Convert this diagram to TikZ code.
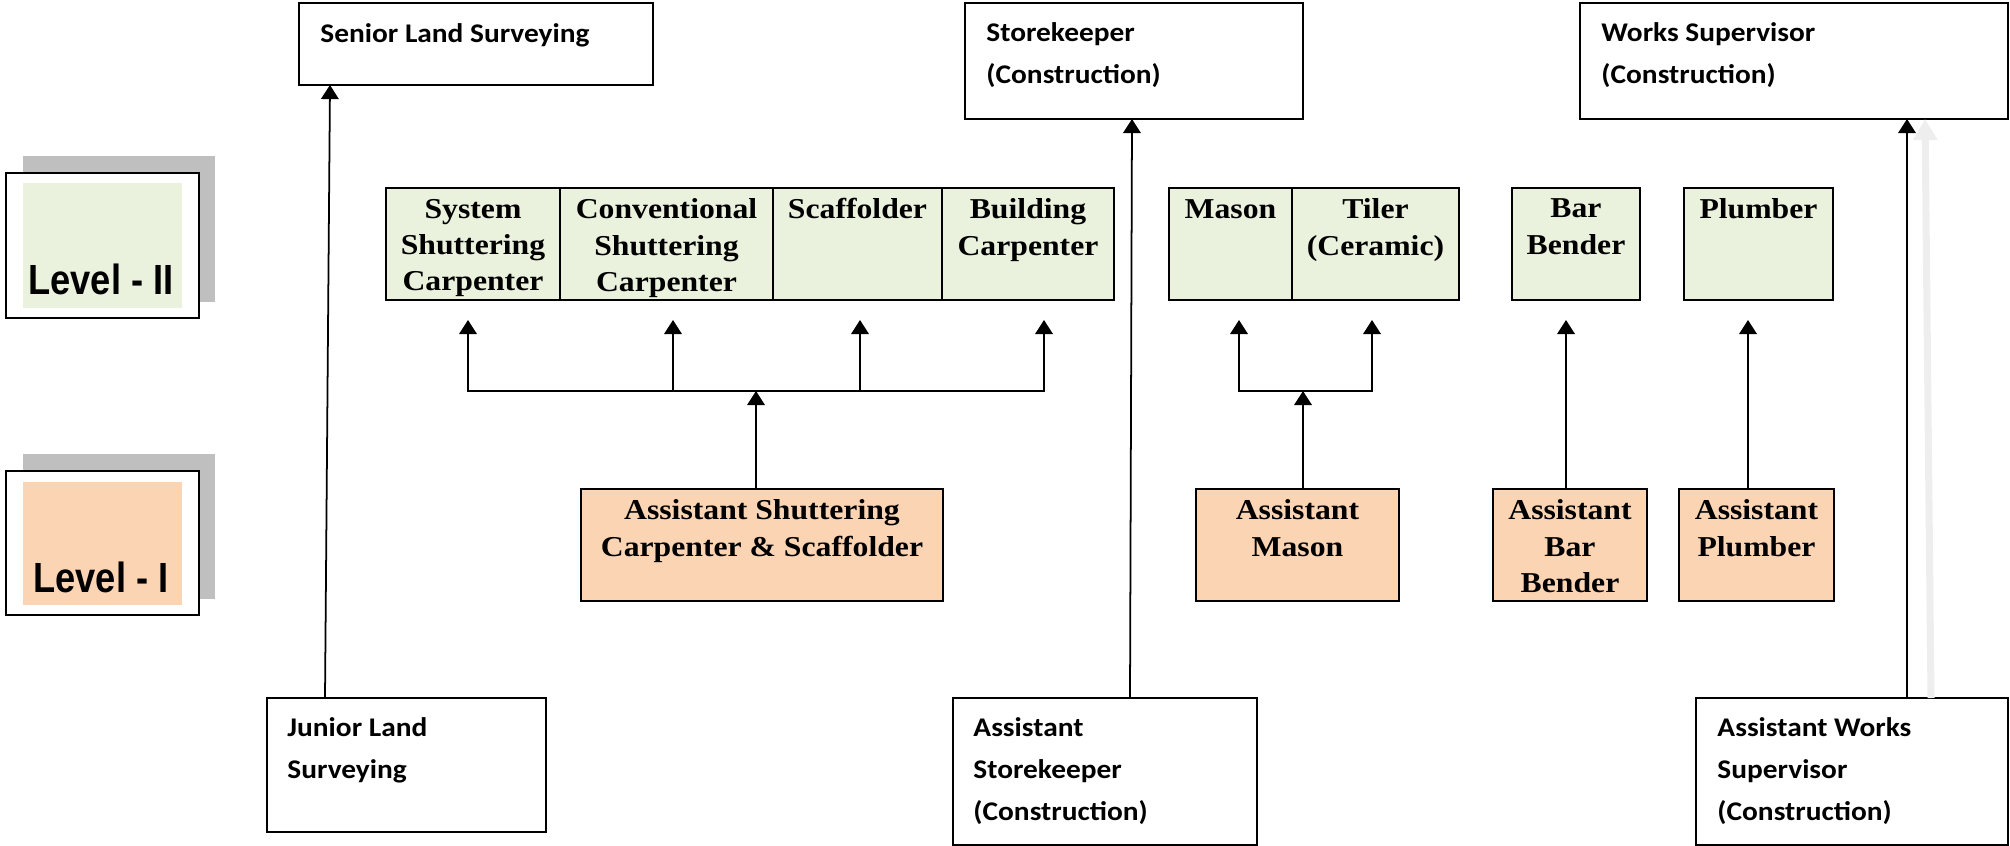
\documentclass[tikz,border=0pt]{standalone}
\usepackage{fontspec}
\usetikzlibrary{arrows.meta}
\newfontfamily\calibri{Carlito}[FakeStretch=1.09]
\newfontfamily\tnr{Liberation Serif}[FakeStretch=1.1]
\newfontfamily\arialn{Liberation Sans}[FakeStretch=0.86]
\definecolor{levelgreen}{RGB}{234, 241, 221}
\definecolor{levelorange}{RGB}{251, 212, 180}
\definecolor{shadowgray}{RGB}{191, 191, 191}
\definecolor{ghostgray}{RGB}{238, 238, 238}
\tikzset{
  sized/.style 2 args={minimum width=#1*0.015cm, minimum height=#2*0.015cm},
  wbox/.style={draw, line width=0.8pt, anchor=north west, inner sep=0pt, outer sep=0pt},
  cell/.style={wbox, fill=levelgreen},
  asst/.style={wbox, fill=levelorange},
  post/.style={anchor=north west, inner sep=0pt, align=left,
    font=\calibri\bfseries\fontsize{11.5}{18}\selectfont, execute at begin node=\strut},
  trade/.style={anchor=north, inner sep=0pt, align=center,
    font=\tnr\bfseries\fontsize{12.3}{15.5}\selectfont, execute at begin node=\strut},
  lvltxt/.style={anchor=base, inner sep=0pt, font=\arialn\bfseries\fontsize{18}{20}\selectfont},
  link/.style={line width=0.75pt, -{Triangle[width=7.5pt,length=6pt]}},
  both/.style={line width=0.75pt, {Triangle[width=7.5pt,length=6pt]}-{Triangle[width=7.5pt,length=6pt]}},
  ghost/.style={draw=ghostgray, line width=3pt, -{Triangle[width=10pt,length=9pt]}},
}
\begin{document}
\begin{tikzpicture}[x=0.015cm, y=-0.015cm]
\useasboundingbox (0,0) rectangle (2010,846);

% level tags
\fill[shadowgray] (23,156) rectangle (215,302);
\node[wbox, fill=white, sized={193}{145}] (lvl2) at (6,173) {};
\fill[levelgreen] ([shift={(17,10)}]lvl2.north west) rectangle ([shift={(-17,-10)}]lvl2.south east);
\node[lvltxt] (lvl2-text) at ([shift={(95,121)}]lvl2.north west) {Level - II};
\fill[shadowgray] (23,454) rectangle (215,599);
\node[wbox, fill=white, sized={193}{144}] (lvl1) at (6,471) {};
\fill[levelorange] ([shift={(17,11)}]lvl1.north west) rectangle ([shift={(-17,-10)}]lvl1.south east);
\node[lvltxt] (lvl1-text) at ([shift={(95,121)}]lvl1.north west) {Level - I};

% posts
\node[wbox, sized={354}{82}]  (sls) at (299,3)   {};
\node[wbox, sized={338}{116}] (sk)  at (965,3)   {};
\node[wbox, sized={428}{116}] (ws)  at (1580,3)  {};
\node[wbox, sized={279}{134}] (jls) at (267,698) {};
\node[wbox, sized={304}{147}] (ask) at (953,698) {};
\node[wbox, sized={312}{147}] (aws) at (1696,698) {};
\node[post] (sls-text) at ([shift={(21,10)}]sls.north west) {Senior Land Surveying};
\node[post] (sk-text)  at ([shift={(21,19)}]sk.north west)  {Storekeeper\\(Construction)};
\node[post] (ws-text)  at ([shift={(21,19)}]ws.north west)  {Works Supervisor\\(Construction)};
\node[post] (jls-text) at ([shift={(20,19)}]jls.north west) {Junior Land\\Surveying};
\node[post] (ask-text) at ([shift={(20,19)}]ask.north west) {Assistant\\Storekeeper\\(Construction)};
\node[post] (aws-text) at ([shift={(21,19)}]aws.north west) {Assistant Works\\Supervisor\\(Construction)};

% level II trades
\node[cell, sized={174}{112}] (sys)   at (386,188)  {};
\node[cell, sized={213}{112}] (conv)  at (560,188)  {};
\node[cell, sized={169}{112}] (scaf)  at (773,188)  {};
\node[cell, sized={172}{112}] (bldg)  at (942,188)  {};
\node[cell, sized={123}{112}] (mason) at (1169,188) {};
\node[cell, sized={167}{112}] (tiler) at (1292,188) {};
\node[cell, sized={128}{112}] (bar)   at (1512,188) {};
\node[cell, sized={149}{112}] (plum)  at (1684,188) {};
\node[trade] (sys-text)   at ([shift={(0,10.5)}]sys.north)   {System\\Shuttering\\Carpenter};
\node[trade] (conv-text)  at ([shift={(0,10.5)}]conv.north)  {Conventional\\Shuttering\\Carpenter};
\node[trade] (scaf-text)  at ([shift={(0,4.6)}]scaf.north)   {Scaffolder};
\node[trade] (bldg-text)  at ([shift={(0,10.5)}]bldg.north)  {Building\\Carpenter};
\node[trade] (mason-text) at ([shift={(0,4.6)}]mason.north)  {Mason};
\node[trade] (tiler-text) at ([shift={(0,10.5)}]tiler.north) {Tiler\\(Ceramic)};
\node[trade] (bar-text)   at ([shift={(0,10.5)}]bar.north)   {Bar\\Bender};
\node[trade] (plum-text)  at ([shift={(0,4.6)}]plum.north)   {Plumber};

% level I trades
\node[asst, sized={362}{112}] (asc) at (581,489)  {};
\node[asst, sized={203}{112}] (am)  at (1196,489) {};
\node[asst, sized={154}{112}] (abb) at (1493,489) {};
\node[asst, sized={155}{112}] (ap)  at (1679,489) {};
\node[trade] (asc-text) at ([shift={(0,10.5)}]asc.north) {Assistant Shuttering\\Carpenter \& Scaffolder};
\node[trade] (am-text)  at ([shift={(0,10.5)}]am.north)  {Assistant\\Mason};
\node[trade] (abb-text) at ([shift={(0,10.5)}]abb.north) {Assistant\\Bar\\Bender};
\node[trade] (ap-text)  at ([shift={(0,10.5)}]ap.north)  {Assistant\\Plumber};

% progression
\draw[link] ([shift={(58,0)}]jls.north west) -- ([shift={(31,0)}]sls.south west);
\draw[link] ([shift={(177,0)}]ask.north west) -- ([shift={(167,0)}]sk.south west);
\draw[ghost] ([shift={(235,0)}]aws.north west) -- ([shift={(345,0)}]ws.south west);
\draw[link] ([shift={(211,0)}]aws.north west) -- ([shift={(327,0)}]ws.south west);

\draw[both] ([shift={(82,20)}]sys.south west) |- ([shift={(102,91)}]bldg.south west) -- ([shift={(102,20)}]bldg.south west);
\draw[link] ([shift={(113,91)}]conv.south west) -- ([shift={(113,20)}]conv.south west);
\draw[link] ([shift={(87,91)}]scaf.south west) -- ([shift={(87,20)}]scaf.south west);
\draw[link] ([shift={(175,0)}]asc.north west) -- ([shift={(175,-98)}]asc.north west);

\draw[both] ([shift={(70,20)}]mason.south west) |- ([shift={(80,91)}]tiler.south west) -- ([shift={(80,20)}]tiler.south west);
\draw[link] ([shift={(107,0)}]am.north west) -- ([shift={(107,-98)}]am.north west);

\draw[link] ([shift={(73,0)}]abb.north west) -- ([shift={(54,20)}]bar.south west);
\draw[link] ([shift={(69,0)}]ap.north west) -- ([shift={(64,20)}]plum.south west);
\end{tikzpicture}
\end{document}
